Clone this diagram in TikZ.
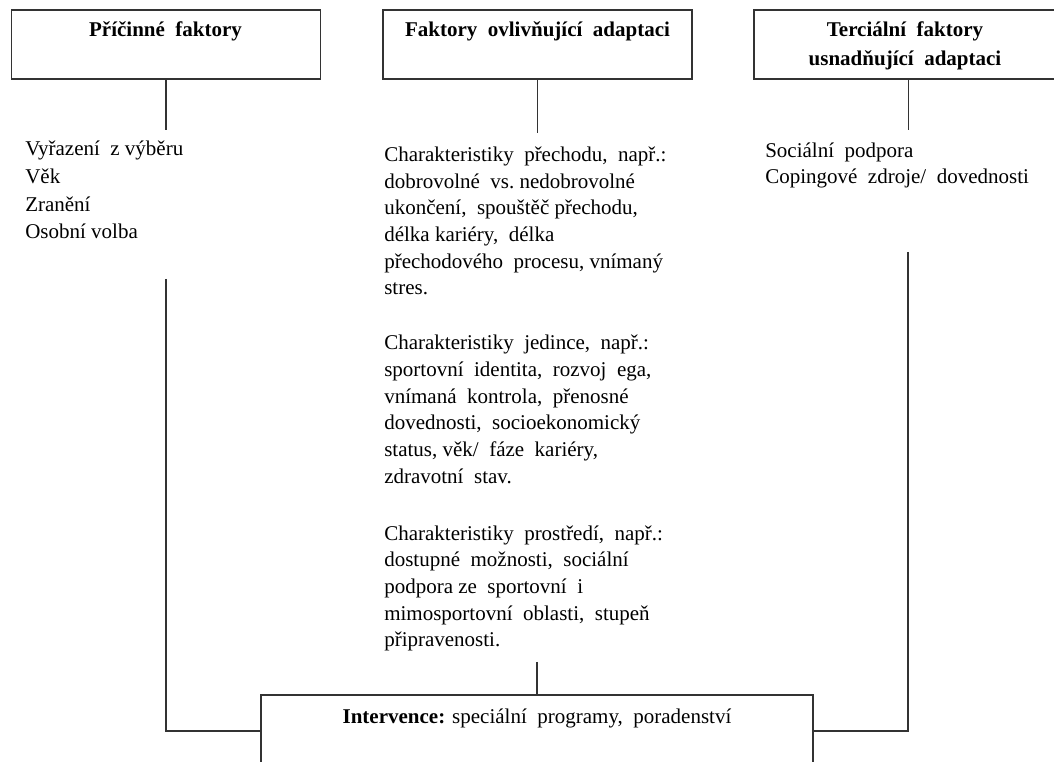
\documentclass[tikz,border=0pt]{standalone}
\usepackage{fontspec}
\setmainfont{Liberation Serif}
\begin{document}
\begin{tikzpicture}[x=0.75pt,y=-0.75pt,
  frame/.style={draw=black!80, line width=1pt, inner sep=0pt},
  link/.style={draw=black!80, line width=1.1pt},
  title/.style={font=\bfseries\fontsize{15.75pt}{21pt}\selectfont, inner sep=0pt, anchor=base},
  body/.style={font=\fontsize{15.75pt}{20pt}\selectfont, inner sep=0pt, anchor=base west, align=left},
  bodywide/.style={body, font=\fontsize{15.75pt}{20.8pt}\selectfont}]
\useasboundingbox (0,0) rectangle (1054,762);

% header boxes
\node[frame, minimum width=231.75pt, minimum height=51.75pt] (cause) at (166,44.5) {};
\node[frame, minimum width=231.75pt, minimum height=51.75pt] (infl) at (537.5,44.5) {};
\node[frame, minimum width=231.75pt, minimum height=51.75pt] (tert) at (908.5,44.5) {};

\node[title] (causeT) at (165.5,37) {Příčinné\ \ faktory};
\node[title] (inflT) at (537.5,37) {Faktory\ \ ovlivňující\ \ adaptaci};
\node[title] (tertT1) at (905,37) {Terciální\ \ faktory};
\node[title] (tertT2) at (905,66) {usnadňující\ \ adaptaci};

% intervention box at the bottom
\node[frame, minimum width=414pt, minimum height=54pt] (interv) at (537,731) {};
\node[anchor=base, inner sep=0pt, font=\fontsize{15.75pt}{20pt}\selectfont] (intervT) at (537,724)
  {\textbf{Intervence:} speciální\ \ programy,\ \ poradenství};

% lists of factors (each node is anchored at the baseline of its last line)
\node[bodywide] (causeL) at (25,239) {Vyřazení\ \ z výběru\\Věk\\Zranění\\Osobní volba};
\node[body] (inflA) at (384,295) {Charakteristiky\ \ přechodu,\ \ např.:\\dobrovolné\ \ vs.\ nedobrovolné\\ukončení,\ \ spouštěč přechodu,\\délka kariéry,\ \ délka\\přechodového\ \ procesu,\ vnímaný\\stres.};
\node[body] (inflB) at (384,483.3) {Charakteristiky\ \ jedince,\ \ např.:\\sportovní\ \ identita,\ \ rozvoj\ \ ega,\\vnímaná\ \ kontrola,\ \ přenosné\\dovednosti,\ \ socioekonomický\\status,\ věk/\ \ fáze\ \ kariéry,\\zdravotní\ \ stav.};
\node[body] (inflC) at (384,646.7) {Charakteristiky\ \ prostředí,\ \ např.:\\dostupné\ \ možnosti,\ \ sociální\\podpora ze\ \ sportovní\ \ i\\mimosportovní\ \ oblasti,\ \ stupeň\\připravenosti.};
\node[body] (tertL) at (765,183.7) {Sociální\ \ podpora\\Copingové\ \ zdroje/\ \ dovednosti};

% connectors
\coordinate (causeE) at (166,130);
\coordinate (inflE) at (537.5,133);
\coordinate (tertE) at (908.5,130);
\coordinate (causeS) at (166,279);
\coordinate (inflS) at (537,662);
\coordinate (tertS) at (908,252);

\draw[link] (cause.south) -- (causeE);
\draw[link] (infl.south) -- (inflE);
\draw[link] (tert.south) -- (tertE);
\draw[link] (causeS) -- (causeS |- interv.west) -- (interv.west);
\draw[link] (tertS) -- (tertS |- interv.east) -- (interv.east);
\draw[link] (inflS) -- (interv.north);
\end{tikzpicture}
\end{document}
